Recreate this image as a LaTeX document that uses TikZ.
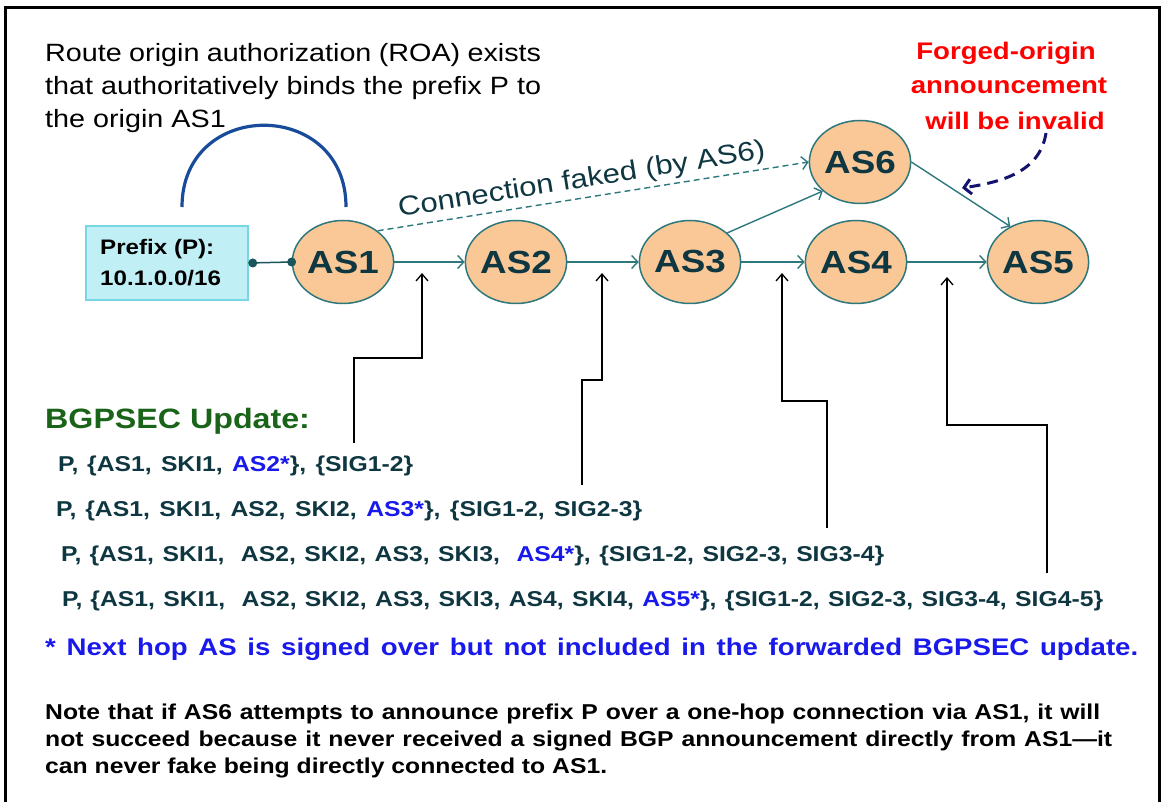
\documentclass[tikz,border=0pt]{standalone}
\usepackage{fontspec}
\setmainfont{Liberation Sans}[FakeStretch=1.15]
\usetikzlibrary{shapes.geometric,arrows.meta}
\definecolor{edgeteal}{RGB}{45,120,125}
\definecolor{peach}{RGB}{250,200,150}
\definecolor{dteal}{RGB}{15,55,65}
\definecolor{dotteal}{RGB}{25,85,90}
\definecolor{cyanfill}{RGB}{192,240,246}
\definecolor{cyanline}{RGB}{120,215,228}
\definecolor{arcblue}{RGB}{25,75,155}
\definecolor{navy}{RGB}{20,20,110}
\definecolor{fred}{RGB}{255,0,0}
\definecolor{fblue}{RGB}{25,25,235}
\definecolor{fgreen}{RGB}{25,100,25}
\newcommand\fsz[1]{\fontsize{#1}{#1}\selectfont}
\tikzset{
  asnode/.style={ellipse, draw=edgeteal, line width=1.5pt, fill=peach,
    minimum width=100pt, minimum height=83pt, inner sep=0pt,
    font=\fsz{32}\bfseries, text=dteal},
  edge/.style={draw=edgeteal, line width=1.4pt,
    -{Straight Barb[length=6pt,width=13pt,line width=1.4pt]}},
  barrow/.style={draw=black, line width=1.3pt,
    -{Straight Barb[length=7pt,width=12pt,line width=1.3pt]}},
  txt/.style={anchor=base west, inner sep=0pt},
  upd/.style={txt, font=\fsz{21.5}\bfseries, text=dteal},
  note/.style={txt, font=\fsz{21.5}\bfseries, text=black},
  forged/.style={anchor=base, inner sep=0pt, font=\fsz{24}\bfseries, text=fred}
}
\begin{document}
\begin{tikzpicture}[x=1pt,y=-1pt]
\useasboundingbox (0,0) rectangle (1165,802);
\clip (0,0) rectangle (1165,802);
\fill[white] (0,0) rectangle (1165,802);
% frame
\draw[line width=2.5pt] (5.5,830) -- (5.5,7.5) -- (1159.5,7.5) -- (1159.5,830);

% top-left text
\node[txt, font=\fsz{25}] (roa1) at (45,62) {\makebox[496pt][s]{Route origin authorization (ROA) exists}};
\node[txt, font=\fsz{25}] (roa2) at (45,95) {\makebox[496pt][s]{that authoritatively binds the prefix P to}};
\node[txt, font=\fsz{25}] (roa3) at (45,128) {the origin AS1};

% forged text
\node[forged] (fo1) at (1006,60) {Forged-origin};
\node[forged] (fo2) at (1009,94) {announcement};
\node[forged] (fo3) at (1015,130) {will be invalid};

% prefix box
\node[draw=cyanline, fill=cyanfill, line width=1.5pt, minimum width=162pt,
      minimum height=74pt, inner sep=0pt] (pfx) at (167,263) {};
\node[txt, font=\fsz{21}\bfseries] (pfxa) at (100,255) {Prefix (P):};
\node[txt, font=\fsz{21}\bfseries] (pfxb) at (100,286) {10.1.0.0/16};

% AS nodes
\node[asnode] (AS1) at (343,262) {AS1};
\node[asnode] (AS2) at (516,262) {AS2};
\node[asnode] (AS3) at (690,262) {AS3};
\node[asnode] (AS4) at (856,262) {AS4};
\node[asnode] (AS5) at (1038,262) {AS5};
\node[asnode] (AS6) at (860,162) {AS6};

% prefix to AS1 link
\draw[dotteal, line width=1.5pt] (pfx.east) -- (AS1.west);
\fill[dotteal] ([xshift=4pt]pfx.east) circle (4.5);
\fill[dotteal] (AS1.west) circle (4.5);

% ROA arc
\coordinate (arcL) at (182,207);
\coordinate (arcR) at (346,207);
\draw[arcblue, line width=3.2pt] (arcL) .. controls (182,98) and (346,98) .. (arcR);

% edges
\draw[edge] (AS1) -- (AS2);
\draw[edge] (AS2) -- (AS3);
\draw[edge] (AS3) -- (AS4);
\draw[edge] (AS4) -- (AS5);
\draw[edge] (AS3.38) -- (AS6.218);
\draw[edge] (AS6.east) -- (AS5.128);
\draw[edge, dash pattern=on 6pt off 4pt] (AS1.42) -- node[sloped, above=4pt, pos=0.48, inner sep=0pt,
   font=\fsz{27}, text=dteal] (cf) {Connection faked (by AS6)} (AS6.west);

% forged pointer
\coordinate (fstart) at (1046,133);
\coordinate (fend) at (962,188);
\draw[navy, line width=3pt, dash pattern=on 11pt off 7pt,
  -{Straight Barb[length=7pt,width=15pt,line width=3pt]}]
  (fstart) .. controls (1040,172) and (1002,182) .. (fend);

% BGPSEC update
\node[txt, font=\fsz{28}\bfseries, text=fgreen] (bg) at (45,428) {BGPSEC Update:};
\node[upd] (u1) at (58,471) {\makebox[355pt][s]{P, \{AS1, SKI1, \textcolor{fblue}{AS2*}\}, \{SIG1-2\}}};
\node[upd] (u2) at (56,516) {\makebox[586pt][s]{P, \{AS1, SKI1, AS2, SKI2, \textcolor{fblue}{AS3*}\}, \{SIG1-2, SIG2-3\}}};
\node[upd] (u3) at (61,561) {\makebox[823pt][s]{P, \{AS1, SKI1, \ AS2, SKI2, AS3, SKI3, \ \textcolor{fblue}{AS4*}\}, \{SIG1-2, SIG2-3, SIG3-4\}}};
\node[upd] (u4) at (62,606) {\makebox[1041pt][s]{P, \{AS1, SKI1, \ AS2, SKI2, AS3, SKI3, AS4, SKI4, \textcolor{fblue}{AS5*}\}, \{SIG1-2, SIG2-3, SIG3-4, SIG4-5\}}};

% pointer arrows
\coordinate (b1) at (354,443); \coordinate (m1) at (422,358); \coordinate (t1) at (422,273);
\coordinate (b2) at (582,485); \coordinate (m2) at (602,380); \coordinate (t2) at (602,273);
\coordinate (b3) at (827,528); \coordinate (m3) at (782,401); \coordinate (t3) at (782,273);
\coordinate (b4) at (1047,573); \coordinate (m4) at (947,425); \coordinate (t4) at (947,277);
\draw[barrow] (b1) |- (m1) -- (t1);
\draw[barrow] (b2) |- (m2) -- (t2);
\draw[barrow] (b3) |- (m3) -- (t3);
\draw[barrow] (b4) |- (m4) -- (t4);

% footnote
\node[txt, font=\fsz{24}\bfseries, text=fblue] (foot) at (45,655) {\makebox[1093pt][s]{* Next hop AS is signed over but not included in the forwarded BGPSEC update.}};

% note
\node[note] (n1) at (45,719) {\makebox[1055pt][s]{Note that if AS6 attempts to announce prefix P over a one-hop connection via AS1, it will}};
\node[note] (n2) at (45,746) {\makebox[1067pt][s]{not succeed because it never received a signed BGP announcement directly from AS1—it}};
\node[note] (n3) at (45,773) {can never fake being directly connected to AS1.};
\end{tikzpicture}
\end{document}
